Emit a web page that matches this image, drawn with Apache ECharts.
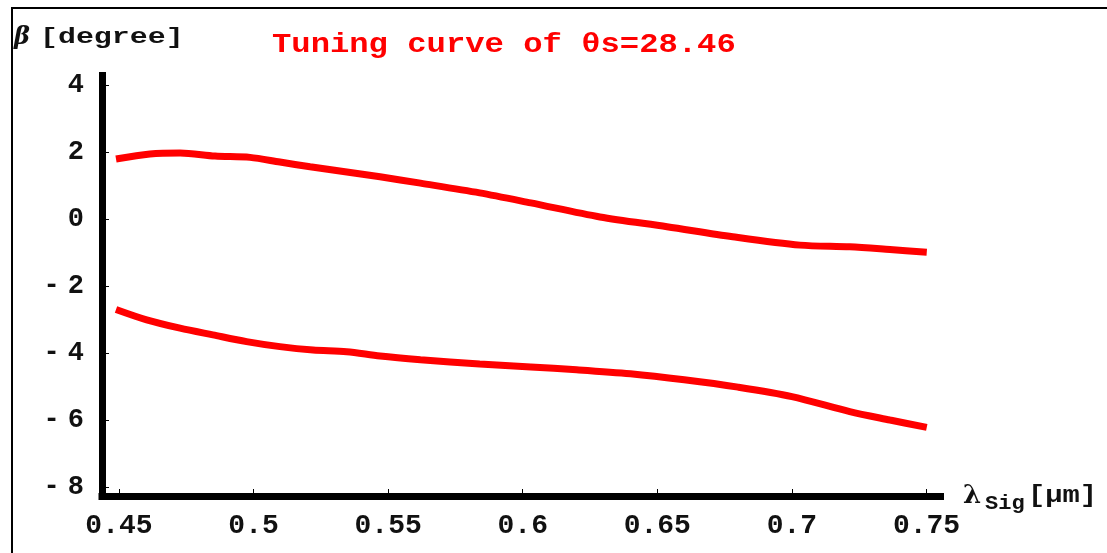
<!DOCTYPE html>
<html>
<head>
<meta charset="utf-8">
<title>Tuning curve</title>
<script src="https://cdn.jsdelivr.net/npm/echarts@6/dist/echarts.min.js"></script>
<style>
  html, body { margin: 0; padding: 0; background: #fff; }
  #chart { width: 1107px; height: 553px; }
</style>
</head>
<body>
<div id="chart"></div>
<script>
// Signal wavelength (µm) and walk-off angle β (degree) for the two branches
const upperX = [0.4489, 0.4615, 0.4727, 0.4857, 0.4987, 0.5098, 0.521, 0.534, 0.547, 0.562, 0.584, 0.603, 0.6287, 0.6536, 0.678, 0.703, 0.7215, 0.7364, 0.7501];
const upperY = [1.79, 1.94, 1.97, 1.88, 1.84, 1.70, 1.56, 1.41, 1.26, 1.07, 0.78, 0.48, 0.06, -0.23, -0.53, -0.78, -0.83, -0.91, -0.99];

const lowerX = [0.4489, 0.4603, 0.4727, 0.4849, 0.4974, 0.5098, 0.5221, 0.5346, 0.547, 0.562, 0.584, 0.603, 0.62, 0.64, 0.66, 0.68, 0.70, 0.7215, 0.7364, 0.7501];
const lowerY = [-2.70, -3.01, -3.26, -3.46, -3.66, -3.81, -3.91, -3.96, -4.09, -4.20, -4.33, -4.42, -4.50, -4.62, -4.80, -5.02, -5.30, -5.75, -6.00, -6.22];

const xTicks = [0.45, 0.5, 0.55, 0.6, 0.65, 0.7, 0.75];
const yTicks = [-8, -6, -4, -2, 0, 2, 4];

const titleText = 'Tuning curve of \u03b8s=28.46';

const pairs = (xs, ys) => xs.map((x, i) => [x, ys[i]]);

const monoBold = (size) => 'bold ' + size + 'px "Liberation Mono", monospace';

const labelFont = { fontFamily: 'Liberation Mono', fontWeight: 'bold', fontSize: 27, color: '#111' };

const chart = echarts.init(document.getElementById('chart'), null, { renderer: 'canvas' });

const option = {
  animation: false,
  backgroundColor: '#ffffff',
  grid: { left: 102, top: 75.5, width: 838.5, height: 420.5, containLabel: false },
  xAxis: {
    type: 'value',
    min: 0.4437,
    max: 0.7552,
    axisLine: { onZero: false, lineStyle: { color: '#000', width: 7, cap: 'square' } },
    axisTick: { inside: true, length: 7, customValues: xTicks, lineStyle: { color: '#000', width: 1 } },
    axisLabel: Object.assign({}, labelFont, {
      customValues: xTicks,
      margin: 16,
      fontSize: 28,
      formatter: (v) => String(+(+v).toFixed(2))
    }),
    splitLine: { show: false }
  },
  yAxis: {
    type: 'value',
    min: -8.269,
    max: 4.284,
    axisLine: { onZero: false, lineStyle: { color: '#000', width: 7, cap: 'square' } },
    axisTick: { inside: true, length: 7, customValues: yTicks, lineStyle: { color: '#000', width: 1 } },
    axisLabel: Object.assign({}, labelFont, {
      customValues: yTicks,
      margin: 18,
      // the minus sign sits a little apart from the digit
      formatter: (v) => {
        const n = Math.round(v);
        return n < 0 ? '{m|-}{d|' + Math.abs(n) + '}' : '{d|' + n + '}';
      },
      rich: {
        m: Object.assign({}, labelFont, { padding: [0, 8, 0, 0] }),
        d: Object.assign({}, labelFont)
      }
    }),
    splitLine: { show: false }
  },
  series: [
    {
      name: 'upper',
      type: 'line',
      data: pairs(upperX, upperY),
      showSymbol: false,
      smooth: 0.3,
      lineStyle: { color: '#ff0000', width: 7 }
    },
    {
      name: 'lower',
      type: 'line',
      data: pairs(lowerX, lowerY),
      showSymbol: false,
      smooth: 0.3,
      lineStyle: { color: '#ff0000', width: 7 }
    }
  ],
  graphic: [
    // page frame (left and top rules)
    { type: 'line', shape: { x1: 12, y1: 7, x2: 12, y2: 553 }, style: { stroke: '#000', lineWidth: 2 } },
    { type: 'line', shape: { x1: 11, y1: 8, x2: 1107, y2: 8 }, style: { stroke: '#000', lineWidth: 2 } },
    // title
    {
      type: 'text', x: 272, y: 45, scaleX: 1.15,
      style: { text: titleText, font: monoBold(28), fill: '#ff0000', verticalAlign: 'middle' }
    },
    // y axis name
    {
      type: 'text', x: 14, y: 38,
      style: { text: '\u03b2', font: 'italic bold 24px "DejaVu Serif", serif', fill: '#111', verticalAlign: 'middle' }
    },
    {
      type: 'text', x: 40, y: 37, scaleX: 1.36,
      style: { text: '[degree]', font: monoBold(22), fill: '#111', verticalAlign: 'middle' }
    },
    // x axis name
    {
      type: 'text', x: 963, y: 496,
      style: { text: '\u03bb', font: 'bold 26px "DejaVu Serif", serif', fill: '#111', verticalAlign: 'middle' }
    },
    {
      type: 'text', x: 985, y: 504, scaleX: 1.1,
      style: { text: 'Sig', font: monoBold(20), fill: '#111', verticalAlign: 'middle' }
    },
    {
      type: 'text', x: 1028, y: 496, scaleX: 1.25,
      style: { text: '[\u03bcm]', font: monoBold(23), fill: '#111', verticalAlign: 'middle' }
    }
  ]
};

chart.setOption(option);
</script>
</body>
</html>
